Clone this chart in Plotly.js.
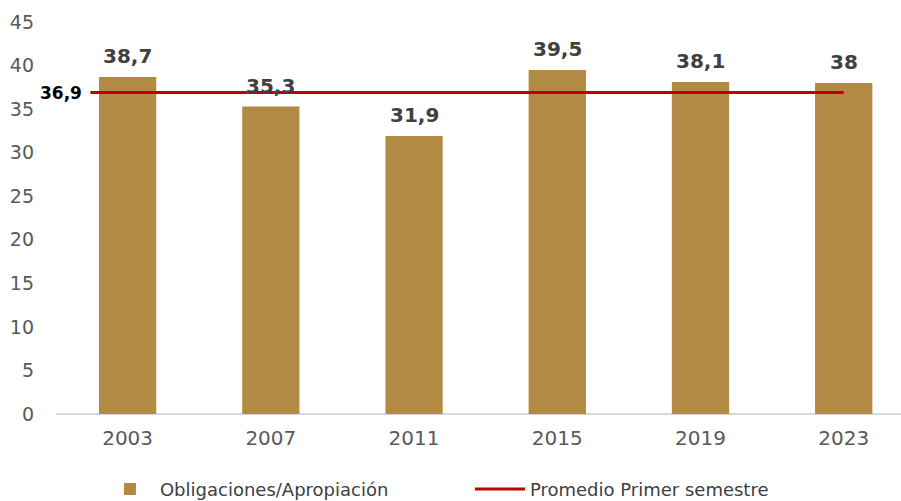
<!DOCTYPE html>
<html><head><meta charset="utf-8">
<script src="https://cdn.plot.ly/plotly-3.0.1.min.js"></script>
<style>html,body{margin:0;padding:0;background:#fff;overflow:hidden}#c{width:901px;height:501px}</style>
</head><body><div id="c"></div>
<script>
var years = ['2003','2007','2011','2015','2019','2023'];
var ratio = [38.7, 35.3, 31.9, 39.5, 38.1, 38];
var promedio = 36.9;
var barName = 'Obligaciones/Apropiación';
var lineName = 'Promedio Primer semestre';

function fmt(v){ return String(v).replace('.', ','); }
var xs = years.map(function(_, i){ return i; });

var traces = [
  {type:'bar', x: xs, y: ratio, name: barName, width: 0.4,
   marker:{color:'#B38A44'}, hoverinfo:'skip'},
  {type:'scatter', mode:'lines', x:[-0.26, xs.length-1], y:[promedio, promedio],
   name: lineName, line:{color:'#C00000', width:3}, hoverinfo:'skip'}
];

var ann = ratio.map(function(v,i){
  return {x: xs[i], y: v, text: '<b>'+fmt(v)+'</b>', showarrow:false,
          yanchor:'middle', yshift:21, font:{family:'DejaVu Sans', size:20, color:'#404040'}};
});
ann.push({x:-0.26, y: promedio, text:'<b>'+fmt(promedio)+'</b>', showarrow:false,
  xanchor:'right', yanchor:'middle', xshift:-6, font:{family:'DejaVu Sans', size:17, color:'#000'}});

var layout = {
  width:901, height:501,
  margin:{l:56, r:0, t:22, b:87, autoexpand:false},
  paper_bgcolor:'#fff', plot_bgcolor:'#fff',
  font:{family:'DejaVu Sans', color:'#595959', size:18},
  showlegend:true,
  legend:{orientation:'h', x:0.052, y:-0.145, xanchor:'left', yanchor:'top',
          font:{size:18, color:'#404040'}, entrywidth:305, itemwidth:50},
  xaxis:{range:[-0.5, 5.4], tickmode:'array', tickvals: xs, ticktext: years,
         showgrid:false, zeroline:false, showline:false, ticks:'', fixedrange:true,
         tickfont:{size:20, color:'#595959'}, ticklabelstandoff:10},
  yaxis:{range:[0,45], dtick:5, showgrid:false, zeroline:true, zerolinecolor:'#D9D9D9',
         zerolinewidth:2, showline:false, ticks:'', fixedrange:true,
         tickfont:{size:19, color:'#595959'}, ticklabelstandoff:21},
  annotations: ann
};
Plotly.newPlot('c', traces, layout, {displayModeBar:false, staticPlot:true});
</script></body></html>
